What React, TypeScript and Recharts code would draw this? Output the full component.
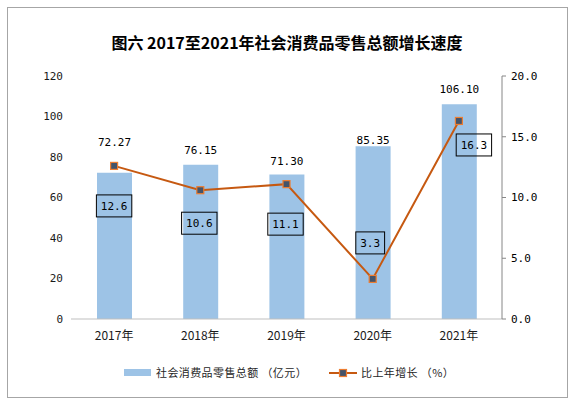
import { ComposedChart, Bar, Line, XAxis, YAxis, LabelList, Legend } from "recharts";

const years = ["2017年", "2018年", "2019年", "2020年", "2021年"];
const retailSales = [72.27, 76.15, 71.3, 85.35, 106.1]; // 亿元
const growthRate = [12.6, 10.6, 11.1, 3.3, 16.3]; // %
const leftTicks = [0, 20, 40, 60, 80, 100, 120];
const rightTicks = [0, 5, 10, 15, 20];

// hand-placed label nudges, as in the original (px)
const salesLabelLift = [31, 15, 13, 6, 15];
const growthBoxShift = [
  [0, 40],
  [-1, 33],
  [-1, 40],
  [-2.5, -36],
  [15, 24],
];

const data = years.map((year, i) => ({
  year,
  sales: retailSales[i],
  growth: growthRate[i],
}));

const BAR = "#9DC3E6";
const LINE = "#C65911";
const MARK_FILL = "#44546A";
const MARK_EDGE = "#ED7D31";
const MONO = "'DejaVu Sans Mono', 'Noto Sans CJK SC', monospace";
const CJK = "'Noto Sans CJK SC', sans-serif";

function SalesLabel(props: any) {
  const { x, y, width, value, index } = props;
  const i = index ?? retailSales.indexOf(value);
  const cx = Number(x) + Number(width) / 2;
  const cy = Number(y) - salesLabelLift[i];
  return (
    <text x={cx} y={cy} dy="0.35em" textAnchor="middle" fontFamily={MONO} fontSize={11} fill="#000">
      {Number(value).toFixed(2)}
    </text>
  );
}

function GrowthLabel(props: any) {
  const { x, y, value, index } = props;
  const i = index ?? growthRate.indexOf(value);
  const label = Number(value).toFixed(1);
  const w = label.length * 6.6 + 9;
  const h = 22;
  const cx = Number(x) + growthBoxShift[i][0];
  const cy = Number(y) + growthBoxShift[i][1];
  return (
    <g>
      <rect x={cx - w / 2} y={cy - h / 2} width={w} height={h} fill="none" stroke="#000" strokeWidth={1} />
      <text x={cx} y={cy} dy="0.35em" textAnchor="middle" fontFamily={MONO} fontSize={11} fill="#000">
        {label}
      </text>
    </g>
  );
}

function SquareDot(props: any) {
  const { cx, cy, index } = props;
  return (
    <rect
      key={`dot-${index}`}
      x={cx - 3.5}
      y={cy - 3.5}
      width={7}
      height={7}
      fill={MARK_FILL}
      stroke={MARK_EDGE}
      strokeWidth={1.2}
    />
  );
}

function LegendRow() {
  return (
    <svg width={574} height={22} style={{ display: "block" }}>
      <rect x={124} y={7} width={27} height={7} fill={BAR} />
      <text x={156} y={11} dy="0.35em" fontFamily={CJK} fontSize={11} fill="#262626" letterSpacing={0.4}>
        社会消费品零售总额 （亿元）
      </text>
      <line x1={329} x2={357} y1={11} y2={11} stroke={LINE} strokeWidth={2} />
      <rect x={339.5} y={7.5} width={7} height={7} fill={MARK_FILL} stroke={MARK_EDGE} strokeWidth={1.2} />
      <text x={361} y={11} dy="0.35em" fontFamily={CJK} fontSize={11} fill="#262626" letterSpacing={0.4}>
        比上年增长 （%）
      </text>
    </svg>
  );
}

export default function App() {
  return (
    <div style={{ position: "absolute", left: 0, top: 0, width: 574, height: 406, background: "#fff" }}>
      <div
        style={{
          position: "absolute",
          left: 7,
          top: 7,
          width: 561,
          height: 391,
          boxSizing: "border-box",
          border: "1px solid #A6A6A6",
        }}
      />
      <div
        style={{
          position: "absolute",
          left: 0,
          top: 31,
          width: 574,
          textAlign: "center",
          fontFamily: CJK,
          fontWeight: 700,
          fontSize: 16,
          lineHeight: "22px",
          color: "#000",
        }}
      >
        图六 2017至2021年社会消费品零售总额增长速度
      </div>
      <ComposedChart width={574} height={406} data={data} margin={{ top: 76, right: 0, left: 0, bottom: 57 }}>
        <XAxis
          dataKey="year"
          height={30}
          tickLine={false}
          tickSize={0}
          tickMargin={12}
          axisLine={{ stroke: "#BFBFBF" }}
          tick={{ fontSize: 12, fontFamily: CJK, fill: "#1a1a1a" }}
        />
        <YAxis
          yAxisId="left"
          width={71}
          domain={[0, 120]}
          ticks={leftTicks}
          axisLine={false}
          tickLine={false}
          tickSize={0}
          tickMargin={8}
          tick={{ fontSize: 11, fontFamily: MONO, fill: "#1a1a1a" }}
        />
        <YAxis
          yAxisId="right"
          orientation="right"
          width={72}
          domain={[0, 20]}
          ticks={rightTicks}
          axisLine={{ stroke: "#868686" }}
          tickLine={{ stroke: "#868686" }}
          tickSize={4}
          tickMargin={5}
          tickFormatter={(v) => Number(v).toFixed(1)}
          tick={{ fontSize: 11, fontFamily: MONO, fill: "#000", textAnchor: "start" }}
        />
        <Bar yAxisId="left" dataKey="sales" fill={BAR} barSize={35} isAnimationActive={false}>
          <LabelList dataKey="sales" content={SalesLabel} />
        </Bar>
        <Line
          yAxisId="right"
          dataKey="growth"
          stroke={LINE}
          strokeWidth={2}
          dot={SquareDot}
          activeDot={false}
          isAnimationActive={false}
        >
          <LabelList dataKey="growth" content={GrowthLabel} />
        </Line>
        <Legend
          layout="vertical"
          align="center"
          verticalAlign="middle"
          wrapperStyle={{ left: 0, top: 362, width: 574, height: 22 }}
          content={() => <LegendRow />}
        />
      </ComposedChart>
    </div>
  );
}
